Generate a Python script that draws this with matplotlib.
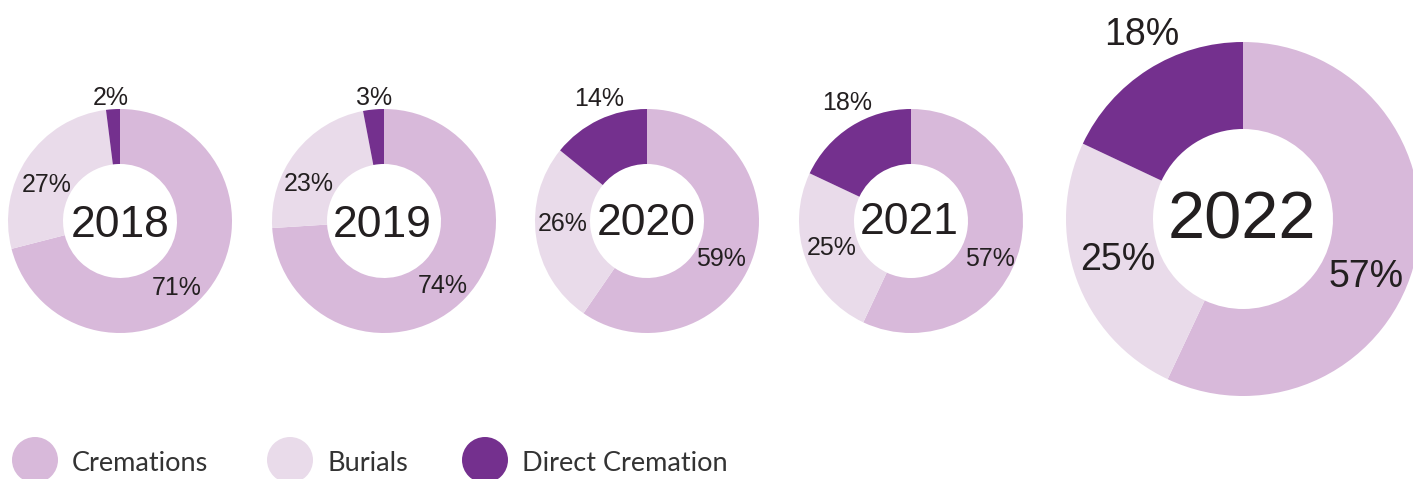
import matplotlib.pyplot as plt
from matplotlib.patches import Circle

# =========================
# DATA
# =========================
YEARS = ["2018", "2019", "2020", "2021", "2022"]
SERIES = ["Cremations", "Burials", "Direct Cremation"]

cremations = [71, 74, 59, 57, 57]
burials = [27, 23, 26, 25, 25]
direct = [2, 3, 14, 18, 18]

COLORS = ["#d8b9da", "#e9dbea", "#74308e"]
TEXT_COLOR = "#231f20"

# =========================
# LAYOUT (pixels, y from top)
# =========================
W, H = 1413, 479
CENTERS = [(120, 221), (384, 221), (647, 221), (911, 221), (1243, 219)]
RADII = [112, 112, 112, 112, 177]
HOLE = [57, 57, 57, 57, 90]

YEAR_POS = [(120, 237), (382, 237), (646, 235), (909, 234), (1242, 238)]
YEAR_SIZE = [32, 32, 32, 32, 48]

# label (x, baseline) for cremations, burials, direct
LABEL_POS = [
    [(177, 295), (47, 192), (111, 105)],
    [(443, 293), (309, 191), (374, 105)],
    [(721, 266), (563, 231), (599, 106)],
    [(990, 266), (832, 255), (847, 110)],
    [(1366, 287), (1118, 270), (1142, 45)],
]
LABEL_SIZE = [18, 18, 18, 18, 27]

LEGEND_CIRCLES = [35, 290, 485]
LEGEND_TEXT_X = [72, 327, 522]


def fy(y):
    return H - y


plt.rcParams["font.family"] = ["Liberation Sans", "DejaVu Sans"]

fig = plt.figure(figsize=(W / 100, H / 100), dpi=100)
ax = fig.add_axes([0, 0, 1, 1])

for i, year in enumerate(YEARS):
    vals = [cremations[i], burials[i], direct[i]]
    cx, cy = CENTERS[i]
    r = RADII[i]
    ax.pie(
        vals,
        colors=COLORS,
        startangle=90,
        counterclock=False,
        radius=r,
        center=(cx, fy(cy)),
        wedgeprops=dict(width=r - HOLE[i], linewidth=0),
        frame=True,
    )
    yx, yy = YEAR_POS[i]
    ax.text(yx, fy(yy), year, ha="center", va="baseline",
            fontsize=YEAR_SIZE[i], color=TEXT_COLOR)
    for j, v in enumerate(vals):
        lx, ly = LABEL_POS[i][j]
        ax.text(lx, fy(ly), f"{v}%", ha="center", va="baseline",
                fontsize=LABEL_SIZE[i], color=TEXT_COLOR)

# legend
for k, name in enumerate(SERIES):
    ax.add_patch(Circle((LEGEND_CIRCLES[k], fy(460)), 23,
                        facecolor=COLORS[k], edgecolor="none", clip_on=False))
    ax.text(LEGEND_TEXT_X[k], fy(471), name, ha="left", va="baseline",
            fontsize=19.5, color="#333333", family=["Lato", "DejaVu Sans"])

ax.set_xlim(0, W)
ax.set_ylim(0, H)
ax.set_aspect("auto")
ax.axis("off")

fig.savefig("out.png", dpi=100)
